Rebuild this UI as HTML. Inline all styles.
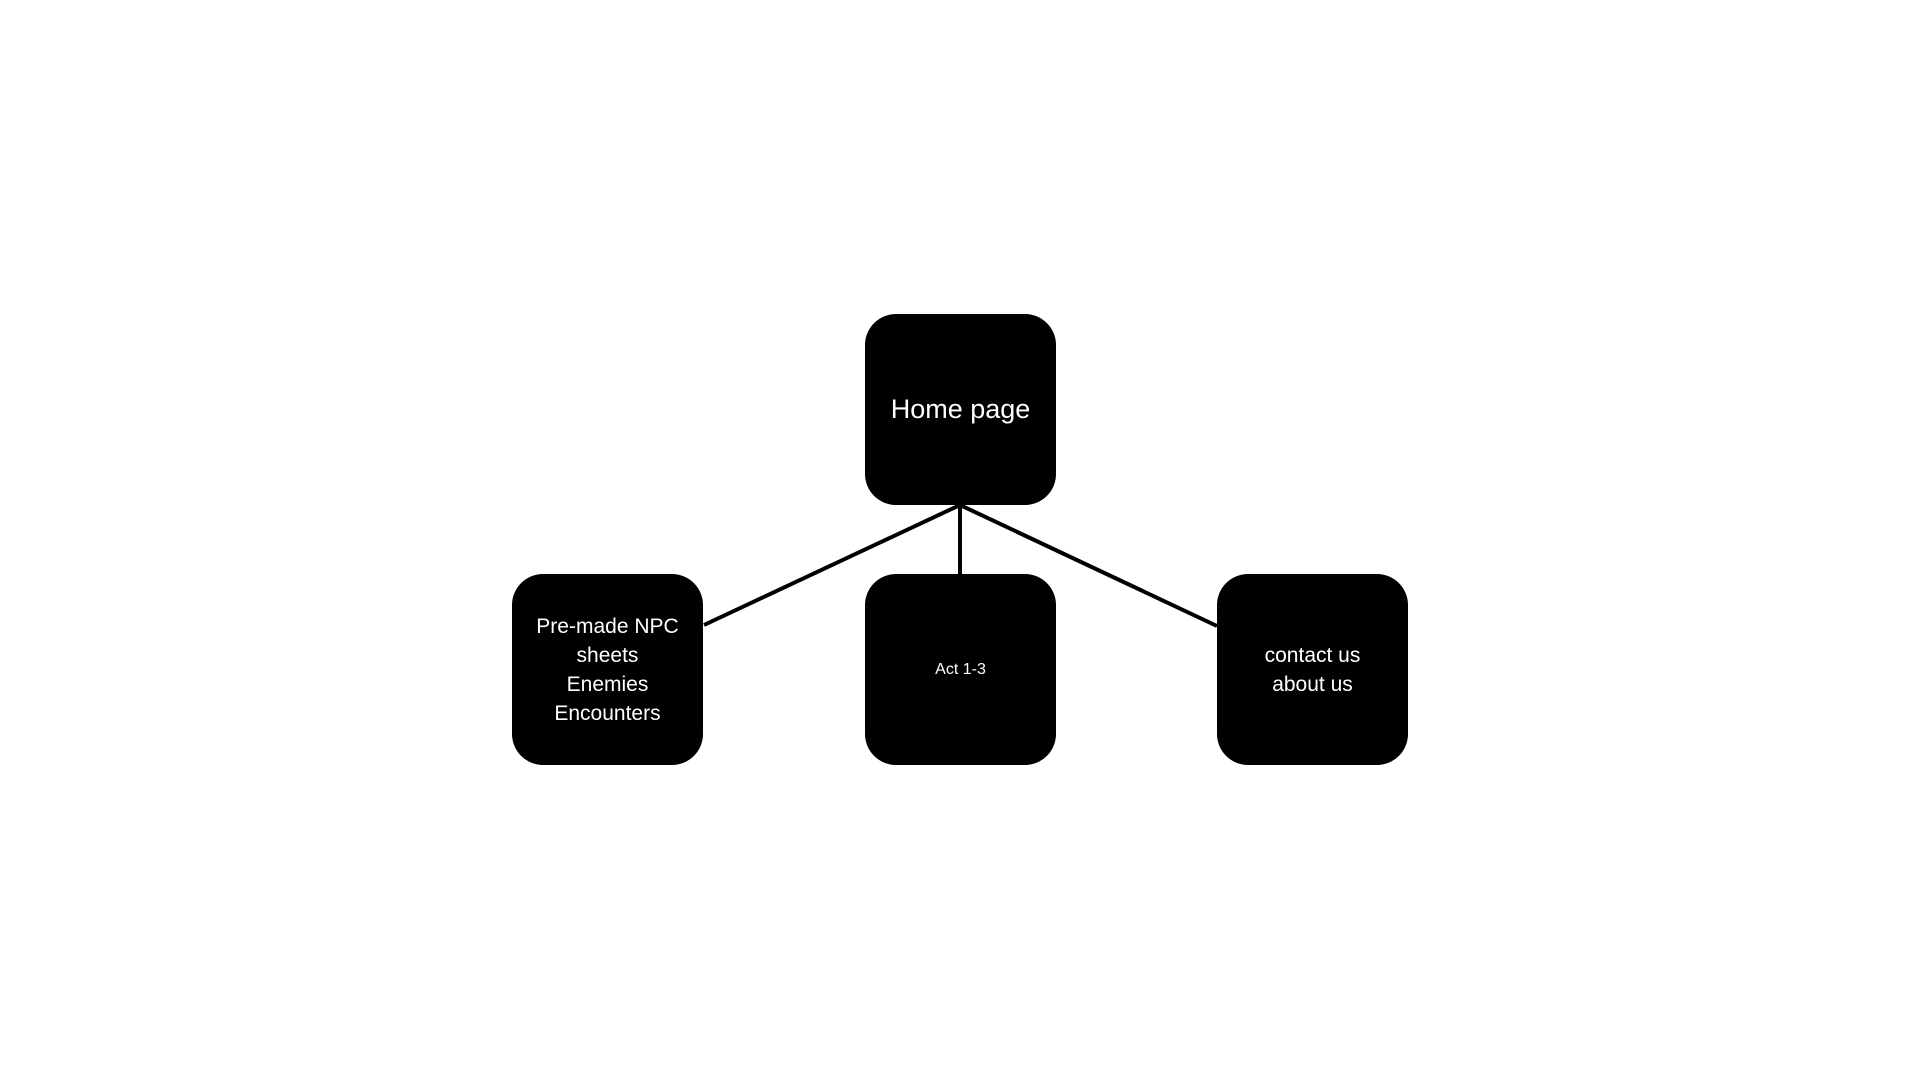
<!DOCTYPE html>
<html><head><meta charset="utf-8"><style>
html,body{margin:0;padding:0;background:#fff;}
body{width:1920px;height:1080px;position:relative;overflow:hidden;font-family:"Liberation Sans",sans-serif;}
.b{position:absolute;width:191px;height:191px;background:#000;border-radius:31px;color:#fff;display:flex;align-items:center;justify-content:center;text-align:center;font-size:21px;line-height:29px;}
svg{position:absolute;left:0;top:0;}
</style></head><body>
<svg width="1920" height="1080"><g stroke="#000" stroke-width="4" fill="none">
<line x1="960" y1="505" x2="704" y2="625"/>
<line x1="960" y1="505" x2="960" y2="575"/>
<line x1="960" y1="505" x2="1217" y2="626"/>
</g></svg>
<div class="b" style="left:865px;top:314px;font-size:27px;">Home page</div>
<div class="b" style="left:512px;top:574px;">Pre-made NPC<br>sheets<br>Enemies<br>Encounters</div>
<div class="b" style="left:865px;top:574px;font-size:16px;">Act 1-3</div>
<div class="b" style="left:1217px;top:574px;">contact us<br>about us</div>
</body></html>
